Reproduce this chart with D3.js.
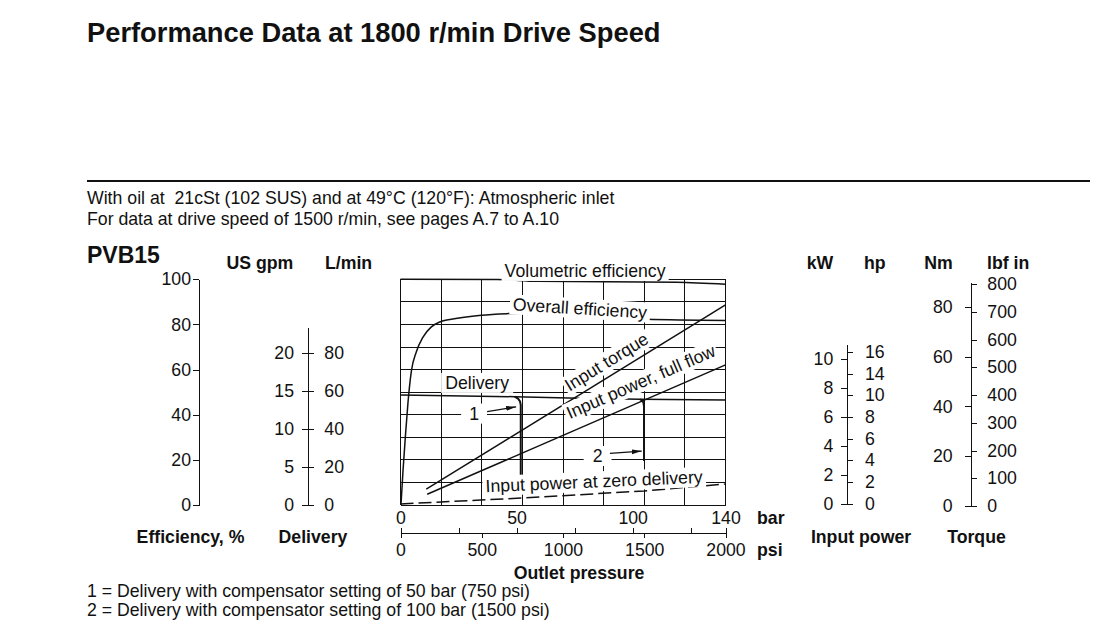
<!DOCTYPE html>
<html>
<head>
<meta charset="utf-8">
<script src="https://cdn.jsdelivr.net/npm/d3@7"></script>
<style>
  body { margin: 0; background: #fff; }
  svg text { font-family: "Liberation Sans", Arial, sans-serif; fill: #111; font-size: 17.7px; }
</style>
</head>
<body>
<svg id="chart" width="1111" height="628"></svg>
<script>
// ---- tick values / labels
const psiGrid = [0, 250, 500, 750, 1000, 1250, 1500, 1750, 2000];
const effGrid = [0, 10, 20, 30, 40, 50, 60, 70, 80, 90, 100];
const barTicks = [0, 25, 50, 75, 100, 125, 140];
const barLabels = [0, 50, 100, 140];
const psiTicks = [0, 500, 1000, 1500, 2000];
const effTicks = [0, 20, 40, 60, 80, 100];
const gpmTicks = [0, 5, 10, 15, 20];
const lpmTicks = [0, 20, 40, 60, 80];
const kwTicks = [0, 2, 4, 6, 8, 10];
const hpTicks = [0, 2, 4, 6, 8, 10, 12, 14];
const hpLabels = ["0", "2", "4", "6", "8", "10", "14", "16"];
const nmTicks = [0, 20, 40, 60, 80];
const lbfTicks = [0, 100, 200, 300, 400, 500, 600, 700, 800];

// ---- curves, [outlet pressure bar, value]
const volumetricEff = [[0, 100], [42, 99.9], [59, 99.1], [119, 98.7], [140, 97.8]];  // %
const overallEff = [[0.2, 0], [1.1, 15.5], [2.1, 30.3], [3.2, 45.1], [4.7, 59.4], [6.8, 67.8],
  [9.7, 74.4], [13.3, 78.9], [16.9, 81.1], [21.9, 82.3], [34.8, 84.1], [46.3, 84.8],
  [59.2, 85.1], [70, 84.8], [87.2, 83.7], [106, 82.3], [140, 81.8]];              // %
const deliveryFull = [[0, 14.47], [49.2, 14.25], [77.3, 14.05], [103.2, 13.91], [140, 13.8]]; // US gpm
const deliveryComp1 = [[49.2, 14.25], [50.6, 14.01], [51.5, 13.62], [51.8, 13.16], [51.8, 2.6]];
const deliveryComp2 = [[103.2, 13.91], [104.2, 13.75], [104.7, 13.42], [104.9, 12.96], [104.9, 5.8]];
const inputTorque = [[11.1, 6.8], [140, 80.7]];                                  // Nm
const powerFullFlow = [[11.5, 0.67], [140, 9.59]];                               // kW
const powerZeroDelivery = [[0, 0], [51.9, 0.41], [104.9, 0.9], [140, 1.38]];      // kW

const svg = d3.select("#chart");

// scales
const x = d3.scaleLinear().domain([0, 140]).range([400.5, 725.5]);
const xPsi = d3.scaleLinear().domain([0, 2000]).range([400.5, 725.5]);
const yEff = d3.scaleLinear().domain([0, 100]).range([505, 279.3]);
const yGpm = d3.scaleLinear().domain([0, 23.3]).range([505, 505 - 23.3 * 7.6]);
const yLpm = d3.scaleLinear().domain([0, 80]).range([505, 353]);
const yKw = d3.scaleLinear().domain([0, 11.03]).range([504, 344]);
const yHp = hp => yKw(hp * 0.7457);
const yNm = d3.scaleLinear().domain([0, 89.9]).range([506, 282]);
const yLbf = d3.scaleLinear().domain([0, 800]).range([506, 284]);

// ---- header texts
svg.append("text").attr("x", 87).attr("y", 42).attr("font-weight", "bold")
  .style("font-size", "27.3px").text("Performance Data at 1800 r/min Drive Speed");
svg.append("line").attr("x1", 87).attr("x2", 1090).attr("y1", 181).attr("y2", 181)
  .attr("stroke", "#111").attr("stroke-width", 2);
svg.append("text").attr("x", 87).attr("y", 204).style("white-space", "pre")
  .text("With oil at  21cSt (102 SUS) and at 49°C (120°F): Atmospheric inlet");
svg.append("text").attr("x", 87).attr("y", 225)
  .text("For data at drive speed of 1500 r/min, see pages A.7 to A.10");
svg.append("text").attr("x", 87).attr("y", 263).attr("font-weight", "bold")
  .style("font-size", "23px").text("PVB15");

// ---- grid
const grid = svg.append("g").attr("stroke", "#111").attr("stroke-width", 1).attr("shape-rendering", "crispEdges");
grid.selectAll(".v").data(psiGrid).join("line")
  .attr("x1", d => xPsi(d)).attr("x2", d => xPsi(d))
  .attr("y1", yEff(0)).attr("y2", yEff(100));
grid.selectAll(".h").data(effGrid).join("line")
  .attr("x1", x(0)).attr("x2", x(140))
  .attr("y1", d => yEff(d)).attr("y2", d => yEff(d));

// ---- curves
const curves = svg.append("g").attr("fill", "none").attr("stroke", "#111").attr("stroke-width", 1.5);
const line = (ys, curve) => d3.line().x(d => x(d[0])).y(d => ys(d[1])).curve(curve || d3.curveLinear);
curves.append("path").attr("d", line(yEff, d3.curveMonotoneX)(volumetricEff));
curves.append("path").attr("d", line(yEff, d3.curveMonotoneX)(overallEff));
curves.append("path").attr("d", line(yGpm)(deliveryFull));
curves.append("path").attr("d", line(yGpm)(deliveryComp1)).attr("stroke-width", 2);
curves.append("path").attr("d", line(yGpm)(deliveryComp2)).attr("stroke-width", 2);
curves.append("path").attr("d", line(yNm)(inputTorque));
curves.append("path").attr("d", line(yKw)(powerFullFlow));
curves.append("path").attr("d", line(yKw)(powerZeroDelivery)).attr("stroke-dasharray", "13,5");

// ---- in-plot labels (white boxes hide grid behind)
const slope = (pts, ys) => Math.atan2(ys(pts[1][1]) - ys(pts[0][1]), x(pts[1][0]) - x(pts[0][0])) * 180 / Math.PI;
const labels = svg.append("g");
function addLabel(t, bar, eff, angle, padX) {
  const g = labels.append("g")
    .attr("transform", `translate(${x(bar)},${yEff(eff)}) rotate(${angle})`);
  const txt = g.append("text").attr("text-anchor", "middle").attr("dominant-baseline", "central").text(t);
  const b = txt.node().getBBox();
  g.insert("rect", "text").attr("x", b.x - padX).attr("y", b.y).attr("width", b.width + 2 * padX)
    .attr("height", b.height).attr("fill", "#fff");
}
addLabel("Volumetric efficiency", 79.5, 103.7, 0, 3);
addLabel("Overall efficiency", 77.3, 87.1, 3.5, 3);
addLabel("Input torque", 88.8, 63.4, slope(inputTorque, yNm), 2);
addLabel("Input power, full flow", 103.5, 54.6, slope(powerFullFlow, yKw), 2);
addLabel("Input power at zero delivery", 83.4, 10.4, -2.5, 3);
addLabel("Delivery", 33.0, 54.1, 0, 4);
addLabel("1", 31.7, 40.5, 0, 8);
addLabel("2", 84.9, 21.7, 0, 9);

const defs = svg.append("defs");
defs.append("marker").attr("id", "arrow").attr("viewBox", "0 0 10 6")
  .attr("refX", 10).attr("refY", 3).attr("markerWidth", 10).attr("markerHeight", 6)
  .attr("markerUnits", "userSpaceOnUse").attr("orient", "auto")
  .append("path").attr("d", "M0,0.6L10,3L0,5.4Z").attr("fill", "#111");
const arrows = [[[37.3, 41.4], [49.8, 43.5]], [[90.2, 22.9], [103.9, 23.9]]];
svg.append("g").selectAll("line").data(arrows).join("line")
  .attr("x1", d => x(d[0][0])).attr("y1", d => yEff(d[0][1]))
  .attr("x2", d => x(d[1][0])).attr("y2", d => yEff(d[1][1]))
  .attr("stroke", "#111").attr("stroke-width", 1.2).attr("marker-end", "url(#arrow)");

// ---- axes
function styleAxis(g) {
  g.attr("font-family", null).attr("font-size", null);
  g.selectAll("line,path").attr("stroke", "#111").attr("shape-rendering", "crispEdges");
  g.selectAll("text").attr("fill", "#111");
}
svg.append("g").attr("transform", "translate(199,0)")
  .call(d3.axisLeft(yEff).tickValues(effTicks).tickSize(6).tickPadding(2).tickSizeOuter(0)).call(styleAxis);

svg.append("g").attr("transform", "translate(307.7,0)")
  .call(d3.axisLeft(yGpm).tickValues(gpmTicks).tickSize(6).tickPadding(7.7).tickSizeOuter(0)).call(styleAxis);
svg.append("g").attr("transform", "translate(307.7,0)")
  .call(d3.axisRight(yLpm).tickValues(lpmTicks).tickSize(6).tickPadding(10.6).tickSizeOuter(0)).call(styleAxis)
  .select(".domain").remove();

svg.append("g").attr("transform", "translate(846.7,0)")
  .call(d3.axisLeft(yKw).tickValues(kwTicks).tickSize(6).tickPadding(7.4).tickSizeOuter(0)).call(styleAxis);
const hpAxis = svg.append("g").attr("transform", "translate(846.7,0)");
hpAxis.selectAll("line").data(hpTicks).join("line")
  .attr("x1", 0).attr("x2", 6).attr("y1", d => yHp(d)).attr("y2", d => yHp(d))
  .attr("stroke", "#111").attr("shape-rendering", "crispEdges");
hpAxis.selectAll("text").data(hpTicks).join("text")
  .attr("x", 18.3).attr("y", d => yHp(d)).attr("dy", "0.32em").text((d, i) => hpLabels[i]);

svg.append("g").attr("transform", "translate(970.7,0)")
  .call(d3.axisLeft(yNm).tickValues(nmTicks).tickSize(6).tickPadding(12).tickSizeOuter(0)).call(styleAxis);
svg.append("g").attr("transform", "translate(970.7,0)")
  .call(d3.axisRight(yLbf).tickValues(lbfTicks).tickSize(6).tickPadding(10.6).tickSizeOuter(0)).call(styleAxis)
  .select(".domain").remove();

// pressure axis: bar ticks up, psi ticks down
svg.append("g").attr("transform", "translate(0,533.3)")
  .call(d3.axisTop(x).tickValues(barTicks).tickFormat(d => barLabels.includes(d) ? d : "")
    .tickSize(5).tickPadding(4).tickSizeOuter(0)).call(styleAxis);
svg.append("g").attr("transform", "translate(0,533.3)")
  .call(d3.axisBottom(xPsi).tickValues(psiTicks).tickFormat(d3.format("d"))
    .tickSize(5).tickPadding(5.6).tickSizeOuter(0)).call(styleAxis);

// ---- axis titles
const bold = (t, xx, yy, anchor) => svg.append("text").attr("x", xx).attr("y", yy)
  .attr("text-anchor", anchor || "middle").attr("font-weight", "bold").text(t);
bold("US gpm", 293.3, 268.8, "end");
bold("L/min", 325, 268.8, "start");
bold("kW", 833.3, 268.8, "end");
bold("hp", 864, 268.8, "start");
bold("Nm", 952.7, 268.8, "end");
bold("lbf in", 987, 268.8, "start");
bold("Efficiency, %", 190.5, 542.8);
bold("Delivery", 313, 542.8);
bold("Input power", 861, 542.8);
bold("Torque", 976.5, 542.8);
bold("bar", 757, 524.3, "start");
bold("psi", 757, 556.3, "start");
bold("Outlet pressure", 579, 579.3);

svg.append("text").attr("x", 87).attr("y", 597).text("1 = Delivery with compensator setting of 50 bar (750 psi)");
svg.append("text").attr("x", 87).attr("y", 616).text("2 = Delivery with compensator setting of 100 bar (1500 psi)");
</script>
</body>
</html>
